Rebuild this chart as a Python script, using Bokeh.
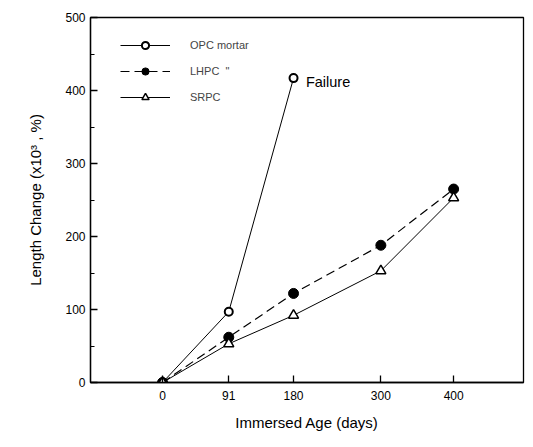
from bokeh.plotting import figure
from bokeh.models import FixedTicker, Legend, LegendItem, Label
from bokeh.embed import file_html
from bokeh.resources import INLINE

days_opc = [0, 91, 180]
opc = [0, 97, 417]
days = [0, 91, 180, 300, 400]
lhpc = [0, 62, 122, 188, 265]
srpc = [0, 53, 92, 153, 253]
x_ticks = [0, 91, 180, 300, 400]
y_ticks = [0, 100, 200, 300, 400, 500]
y_minor = [50, 150, 250, 350, 450]

FONT = "Liberation Sans"

p = figure(width=525, height=439, output_backend="svg", toolbar_location=None,
           x_range=(-99, 496), y_range=(0, 500),
           min_border_left=90, min_border_right=2, min_border_top=17, min_border_bottom=57)
p.grid.visible = False
p.outline_line_color = "black"
p.outline_line_width = 1.3

l1 = p.line(days_opc, opc, line_color="black", line_width=1)
m1 = p.scatter(days_opc, opc, marker="circle", size=8, fill_color="white", line_color="black", line_width=2)
l2 = p.line(days, lhpc, line_color="black", line_width=1.2, line_dash="9 5")
m2 = p.scatter(days, lhpc, marker="circle", size=10, fill_color="black", line_color="black")
l3 = p.line(days, srpc, line_color="black", line_width=1)
m3 = p.scatter(days, srpc, marker="triangle", size=10, fill_color="white", line_color="black", line_width=1.5)

legend = Legend(items=[LegendItem(label="OPC mortar", renderers=[l1, m1]),
                       LegendItem(label="LHPC  \"", renderers=[l2, m2]),
                       LegendItem(label="SRPC", renderers=[l3, m3])],
                location=(30, 276), glyph_width=50, glyph_height=18, spacing=8,
                label_text_font=FONT, label_text_font_size="11px", label_standoff=20,
                border_line_color=None, background_fill_alpha=0, padding=4)
p.add_layout(legend, "center")

p.add_layout(Label(x=197, y=411, text="Failure", text_font=FONT, text_font_size="14.5px",
                   text_color="black", text_baseline="middle"))

for ax in (p.xaxis[0], p.yaxis[0]):
    ax.axis_line_width = 1.3
    ax.major_tick_line_width = 1.3
    ax.minor_tick_line_width = 1.1
    ax.major_tick_in = 7
    ax.major_tick_out = 0
    ax.minor_tick_in = 4
    ax.minor_tick_out = 0
    ax.major_label_text_font = FONT
    ax.major_label_text_font_size = "12px"
    ax.axis_label_text_font = FONT
    ax.axis_label_text_font_size = "15px"
    ax.axis_label_text_font_style = "normal"
    ax.major_label_text_color = "black"
    ax.axis_label_text_color = "black"

p.xaxis.ticker = FixedTicker(ticks=x_ticks)
p.yaxis.ticker = FixedTicker(ticks=y_ticks, minor_ticks=y_minor)
p.xaxis.axis_label = "Immersed Age (days)"
p.yaxis.axis_label = "Length Change (x10\u00b3 , %)"
p.xaxis.major_label_standoff = 8
p.xaxis.axis_label_standoff = 11
p.yaxis.major_label_standoff = 5
p.yaxis.axis_label_standoff = 18

open("out.html", "w").write(file_html(p, INLINE))
